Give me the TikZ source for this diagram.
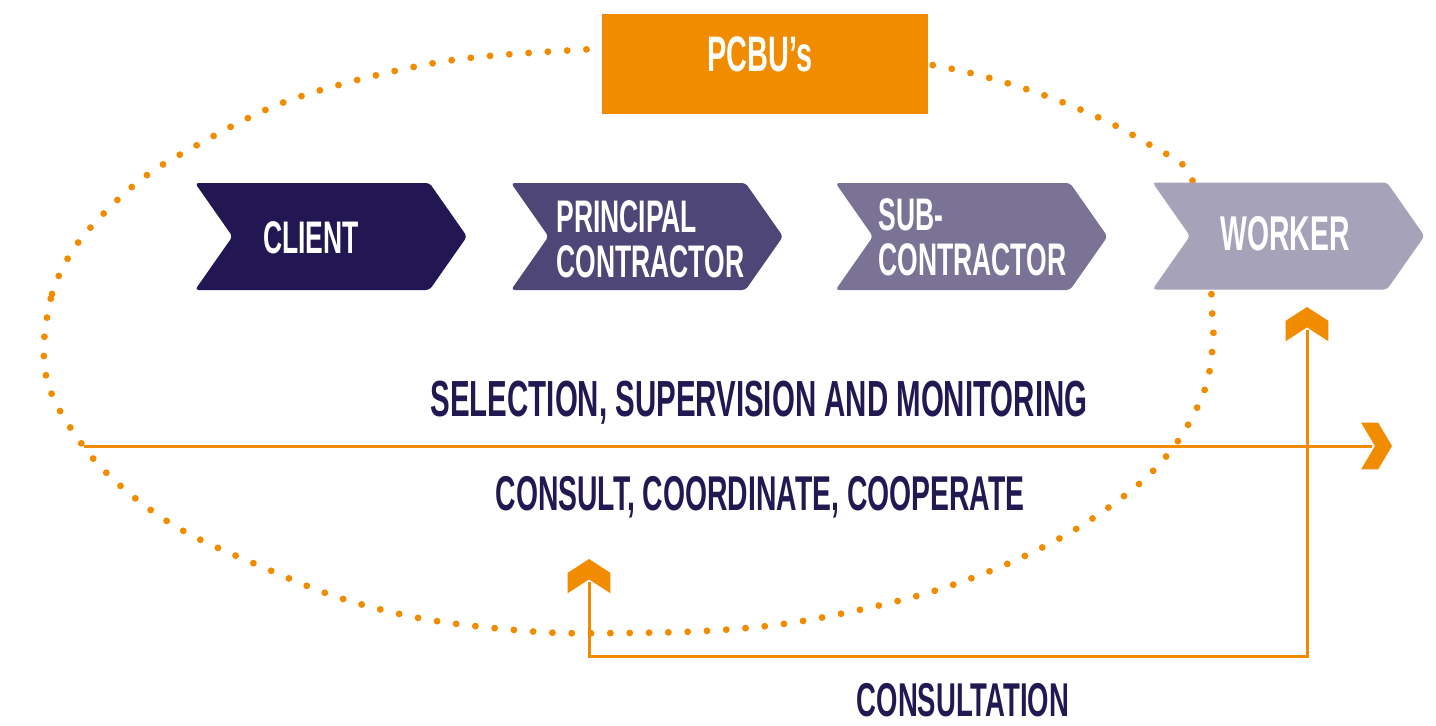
\documentclass[tikz,border=0pt]{standalone}
\usepackage{fontspec}
\newfontfamily\condfont{Liberation Sans}[FakeStretch=0.58]
\usetikzlibrary{arrows, arrows.meta}
\usetikzlibrary{shapes.symbols}

\definecolor{pcbuorange}{HTML}{F18C00}
\definecolor{clientcol}{HTML}{221752}
\definecolor{principalcol}{HTML}{4E4677}
\definecolor{subcol}{HTML}{7A7396}
\definecolor{workercol}{HTML}{A6A2BA}
\definecolor{labelcol}{HTML}{221852}

% flat chevron tip for the orange arrows
\pgfdeclarearrow{
  name = Chevron,
  parameters = {\the\pgfarrowlength,\the\pgfarrowwidth,\the\pgfarrowinset},
  setup code = {
    \pgfarrowssettipend{\pgfarrowlength}
    \pgfarrowssetlineend{.8\pgfarrowinset}
    \pgfarrowsupperhullpoint{\pgfarrowlength}{0pt}
    \pgfarrowsupperhullpoint{0pt}{.5\pgfarrowwidth}
    \pgfarrowssavethe\pgfarrowlength
    \pgfarrowssavethe\pgfarrowwidth
    \pgfarrowssavethe\pgfarrowinset
  },
  drawing code = {
    \pgfpathmoveto{\pgfqpoint{\pgfarrowlength}{0pt}}
    \pgfpathlineto{\pgfpoint{\pgfarrowlength-\pgfarrowinset}{.5\pgfarrowwidth}}
    \pgfpathlineto{\pgfqpoint{0pt}{.5\pgfarrowwidth}}
    \pgfpathlineto{\pgfqpoint{\pgfarrowinset}{0pt}}
    \pgfpathlineto{\pgfqpoint{0pt}{-.5\pgfarrowwidth}}
    \pgfpathlineto{\pgfpoint{\pgfarrowlength-\pgfarrowinset}{-.5\pgfarrowwidth}}
    \pgfpathclose
    \pgfusepathqfill
  },
  defaults = {length=17pt, width=26pt, inset=8pt}
}

\tikzset{
  chev/.style={signal, signal from=west, signal to=east, signal pointer angle=110,
    minimum width=5.44cm, minimum height=2.14cm, inner sep=0pt, rounded corners=2pt},
  chevtext/.style={text=white, font=\condfont\bfseries\fontsize{26}{25.5}\selectfont,
    align=left, inner sep=0pt},
  flowtext/.style={text=labelcol, font=\condfont\bfseries\fontsize{28}{30}\selectfont,
    inner sep=0pt, anchor=base},
  flow/.style={pcbuorange, line width=1.7pt},
  dots/.style={pcbuorange, line width=3.9pt, line cap=round, dash pattern=on 0pt off 11pt},
  sidetip/.style={-{Chevron[length=17.6pt, width=26.6pt, inset=7.9pt]}},
}

\begin{document}
\begin{tikzpicture}[x=0.02cm, y=-0.02cm]
  \useasboundingbox (0,0) rectangle (1436,725);

  % dotted loop round the chain
  \draw[dots] plot[smooth cycle, tension=0.55] coordinates {
    (44,342) (52,294) (68,258) (91,227) (133,186) (181,154) (290,100) (440,62)
    (592,49) (700,44) (800,46) (943,67) (1032,91) (1104,120) (1155,148) (1187,170)
    (1207,230) (1212,310) (1213,342) (1205,389) (1178,441) (1139,484) (1076,529)
    (1007,564) (934,591) (859,610) (783,624) (705,631) (620,633) (540,632)
    (430,620) (340,598) (260,566) (189,534) (140,502) (97,463) (63,416) (47,380)};

  \node[fill=pcbuorange, minimum width=6.52cm, minimum height=2cm, inner sep=0pt] (pcbu) at (765,64) {};
  \node[chevtext, anchor=base, font=\condfont\bfseries\fontsize{28.4}{30}\selectfont] (pcbutext) at (760,71) {PCBU’s};

  \node[chev, fill=clientcol] (client) at (331,236.5) {};
  \node[chev, fill=principalcol] (principal) at (647,236.5) {};
  \node[chev, fill=subcol] (sub) at (971.5,236.5) {};
  \node[chev, fill=workercol] (worker) at (1288.5,236) {};

  \node[chevtext, anchor=base] (clienttext) at (311,253) {CLIENT};
  \node[chevtext, anchor=west] (principaltext) at (556,239) {PRINCIPAL\\CONTRACTOR};
  \node[chevtext, anchor=west] (subtext) at (878,237) {SUB-\\CONTRACTOR};
  \node[chevtext, anchor=base, font=\condfont\bfseries\fontsize{27.8}{30}\selectfont] (workertext) at (1285,250) {WORKER};

  \coordinate (selstart) at (84,446);
  \coordinate (selend) at (1392,446);
  \draw[flow, sidetip] (selstart) -- (selend);

  \node[flowtext, font=\condfont\bfseries\fontsize{28.9}{30}\selectfont] (selection) at (759,416) {SELECTION, SUPERVISION AND MONITORING};
  \node[flowtext, font=\condfont\bfseries\fontsize{27.8}{30}\selectfont] (consult) at (760,510) {CONSULT, COORDINATE, COOPERATE};

  \coordinate (consleft) at (589,559);
  \coordinate (consbl) at (589,656);
  \coordinate (consbr) at (1307,656);
  \coordinate (consright) at (1307,307);
  \draw[flow, {Chevron[length=19.5pt, width=24.4pt, inset=7.9pt]}-{Chevron[length=19.5pt, width=24.4pt, inset=7.9pt]}]
    (consleft) -- (consbl) -- (consbr) -- (consright);

  \node[flowtext, font=\condfont\bfseries\fontsize{27}{30}\selectfont] (consultation) at (963,716) {CONSULTATION};
\end{tikzpicture}
\end{document}
